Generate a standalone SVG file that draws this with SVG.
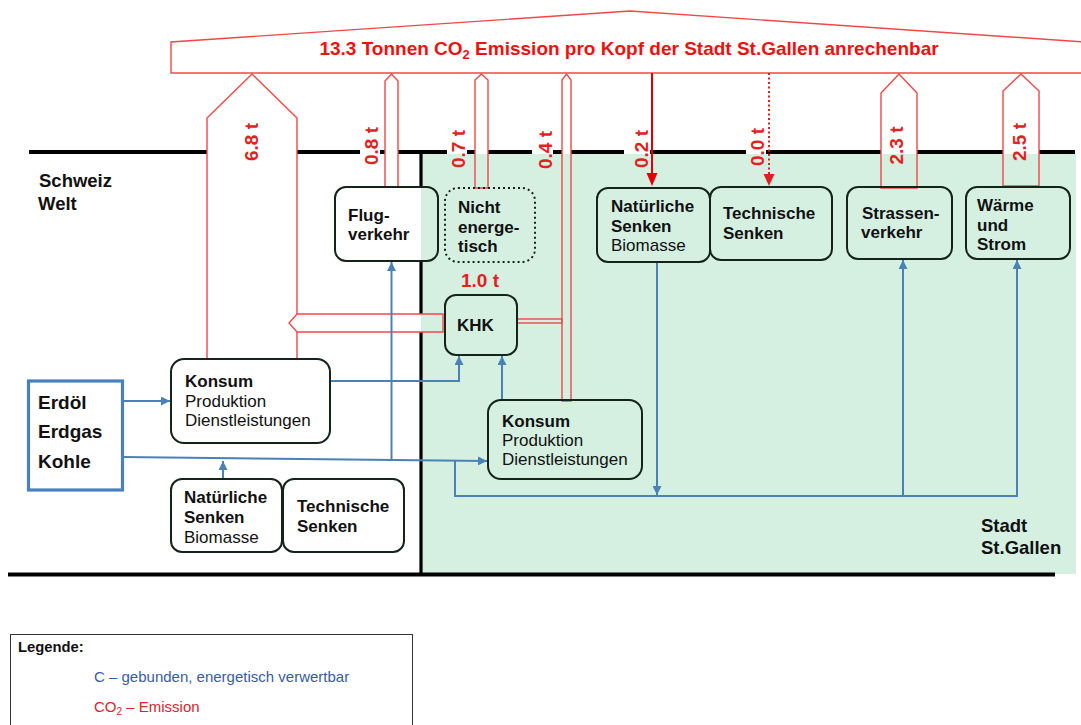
<svg xmlns="http://www.w3.org/2000/svg" width="1081" height="725" viewBox="0 0 1081 725">
<defs>
<style>
.t{font-family:"Liberation Sans",Arial,sans-serif;font-size:17px;fill:#111;}
.b{font-weight:bold;}
.big{font-family:"Liberation Sans",Arial,sans-serif;font-size:18.5px;font-weight:bold;fill:#111;}
.lab{font-family:"Liberation Sans",Arial,sans-serif;font-size:19px;font-weight:bold;fill:#e3211f;}
.node{fill:none;stroke:#14241a;stroke-width:2;}
.red{fill:none;stroke:#f04848;stroke-width:1.4;}
.blue{fill:none;stroke:#4a82b8;stroke-width:2;}
.blk{stroke:#000;stroke-width:4;fill:none;}
</style>
<marker id="ab" viewBox="0 0 10 10" refX="10" refY="5" markerWidth="9" markerHeight="9" markerUnits="userSpaceOnUse" orient="auto">
<path d="M0,0 L10,5 L0,10 Z" fill="#4a82b8"/>
</marker>
</defs>
<rect width="1081" height="725" fill="#fff"/>
<!-- city area -->
<rect x="421" y="154" width="655" height="420" fill="#d5f0e1"/>
<!-- boundary lines -->
<g id="boundaries">
<path class="blk" d="M29,152 H207 M297,152 H360 M380,152 H385 M398,152 H447 M467,152 H475 M488,152 H532 M553,152 H562 M571,152 H624 M650,152 H746 M766,152 H881 M917,152 H1003 M1039,152 H1075"/>
<path d="M421,150 V187 M421,261 V314 M421,332 V576" stroke="#000" stroke-width="3.2" fill="none"/>
<path class="blk" d="M8,574.5 H1055"/>
</g>
<!-- banner -->
<g id="banner">
<path class="red" d="M171,73 V42 L630,11 L1085,42 V73 Z"/>
<text x="629" y="55" text-anchor="middle" style="font-family:'Liberation Sans',Arial,sans-serif;font-size:19px;font-weight:bold;fill:#f01010">13.3 Tonnen CO<tspan font-size="13" dy="4">2</tspan><tspan dy="-4"> Emission pro Kopf der Stadt St.Gallen anrechenbar</tspan></text>
</g>
<!-- emission arrows -->
<g id="emissions">
<path class="red" d="M207,359 V118 L252,74 L297,118 V314 H443 V332 H297 V359 Z"/>
<path class="red" d="M297,314 L289,323 L297,332"/>
<path class="red" d="M385,187 V81 L391.5,74 L398,81 V187 Z"/>
<path class="red" d="M475,188 V80 L481.5,74 L488,80 V188 Z"/>
<path class="red" d="M562,401 V80 L566.5,74 L571,80 V401 Z"/>
<rect class="red" x="517" y="319" width="45" height="4"/>
<path class="red" d="M881,188 V93 L899,74 L917,93 V188 Z"/>
<path class="red" d="M1003,186 V91 L1021,74 L1039,91 V186 Z"/>
<path d="M652,73 V174" stroke="#e00000" stroke-width="2" fill="none"/>
<path d="M646.5,173 H657.5 L652,186 Z" fill="#e00000"/>
<path d="M769,73 V174" stroke="#e02020" stroke-width="2" stroke-dasharray="2,2.5" fill="none"/>
<path d="M763.5,174 H774.5 L769,186 Z" fill="#e02020"/>
</g>
<g id="labels">
<text class="lab" text-anchor="middle" transform="translate(250.5,142) rotate(-90)" y="7">6.8 t</text>
<text class="lab" text-anchor="middle" transform="translate(370.5,146) rotate(-90)" y="7">0.8 t</text>
<text class="lab" text-anchor="middle" transform="translate(458,149) rotate(-90)" y="7">0.7 t</text>
<text class="lab" text-anchor="middle" transform="translate(544.5,150) rotate(-90)" y="7">0.4 t</text>
<text class="lab" text-anchor="middle" transform="translate(640.5,149) rotate(-90)" y="7">0.2 t</text>
<text class="lab" text-anchor="middle" transform="translate(757,147) rotate(-90)" y="7">0.0 t</text>
<text class="lab" text-anchor="middle" transform="translate(895.5,145.5) rotate(-90)" y="7">2.3 t</text>
<text class="lab" text-anchor="middle" transform="translate(1019,142) rotate(-90)" y="7">2.5 t</text>
<text class="lab" x="461" y="287">1.0 t</text>
</g>
<!-- connectors -->
<g id="connectors">
<path class="blue" d="M123,401 H170" marker-end="url(#ab)"/>
<path class="blue" d="M123,457 L487,461" marker-end="url(#ab)"/>
<path class="blue" d="M391.5,461 V262" marker-end="url(#ab)"/>
<path class="blue" d="M330,381 H459 V356" marker-end="url(#ab)"/>
<path class="blue" d="M502,400 V356" marker-end="url(#ab)"/>
<path class="blue" d="M455,460.5 V496 H1017 V260" marker-end="url(#ab)"/>
<path class="blue" d="M903,496 V260" marker-end="url(#ab)"/>
<path class="blue" d="M657,262 V495" marker-end="url(#ab)"/>
<path class="blue" d="M223,479 V461" marker-end="url(#ab)"/>
</g>
<!-- region labels -->
<g id="regions">
<text class="big" x="39" y="187">Schweiz</text>
<text class="big" x="38" y="210">Welt</text>
<text class="big" x="981" y="532">Stadt</text>
<text class="big" x="981" y="554">St.Gallen</text>
</g>
<!-- nodes -->
<g id="flugverkehr">
<rect class="node" x="335" y="187" width="103" height="74" rx="11"/>
<text class="t b" x="348" y="221">Flug-</text>
<text class="t b" x="348" y="240">verkehr</text>
</g>
<g id="nicht-energetisch">
<rect x="445" y="188" width="90" height="74" rx="13" fill="none" stroke="#14241a" stroke-width="2" stroke-dasharray="2,3"/>
<text class="t b" x="458" y="213">Nicht</text>
<text class="t b" x="458" y="233">energe-</text>
<text class="t b" x="458" y="252">tisch</text>
</g>
<g id="khk">
<rect class="node" x="445" y="295" width="72" height="60" rx="11"/>
<text class="t b" x="457" y="331">KHK</text>
</g>
<g id="natuerliche-senken-stadt">
<rect class="node" x="597" y="188" width="113" height="74" rx="11"/>
<text class="t b" x="611" y="212">Natürliche</text>
<text class="t b" x="611" y="232">Senken</text>
<text class="t" x="611" y="251">Biomasse</text>
</g>
<g id="technische-senken-stadt">
<rect class="node" x="710" y="187" width="122" height="73" rx="11"/>
<text class="t b" x="723" y="219">Technische</text>
<text class="t b" x="723" y="239">Senken</text>
</g>
<g id="strassenverkehr">
<rect class="node" x="847" y="187" width="105" height="72" rx="11"/>
<text class="t b" x="862" y="219">Strassen-</text>
<text class="t b" x="861" y="238">verkehr</text>
</g>
<g id="waerme-strom">
<rect class="node" x="966" y="187" width="104" height="72" rx="11"/>
<text class="t b" x="977" y="211">Wärme</text>
<text class="t b" x="977" y="231">und</text>
<text class="t b" x="977" y="250">Strom</text>
</g>
<g id="konsum-welt">
<rect class="node" x="171" y="359" width="159" height="84" rx="13"/>
<text class="t b" x="185" y="387">Konsum</text>
<text class="t" x="185" y="407">Produktion</text>
<text class="t" x="185" y="426">Dienstleistungen</text>
</g>
<g id="konsum-stadt">
<rect class="node" x="488" y="400" width="154" height="79" rx="13"/>
<text class="t b" x="502" y="427">Konsum</text>
<text class="t" x="502" y="446">Produktion</text>
<text class="t" x="502" y="465">Dienstleistungen</text>
</g>
<g id="fossil">
<rect x="28.5" y="381" width="94" height="109" fill="none" stroke="#4a80bf" stroke-width="3.2"/>
<text class="t b" style="font-size:19px" x="38" y="409">Erdöl</text>
<text class="t b" style="font-size:19px" x="38" y="438">Erdgas</text>
<text class="t b" style="font-size:19px" x="38" y="468">Kohle</text>
</g>
<g id="natuerliche-senken-welt">
<rect class="node" x="171" y="479" width="111" height="73" rx="11"/>
<text class="t b" x="184" y="503">Natürliche</text>
<text class="t b" x="184" y="523">Senken</text>
<text class="t" x="184" y="543">Biomasse</text>
</g>
<g id="technische-senken-welt">
<rect class="node" x="283" y="479" width="121" height="73" rx="11"/>
<text class="t b" x="297" y="512">Technische</text>
<text class="t b" x="297" y="532">Senken</text>
</g>
<!-- legend -->
<g id="legend">
<rect x="10.5" y="634.5" width="402" height="100" fill="#fff" stroke="#333" stroke-width="1"/>
<text class="t b" style="font-size:14.8px" x="18" y="652">Legende:</text>
<text x="94" y="682" style="font-family:'Liberation Sans',Arial,sans-serif;font-size:15px;fill:#3a5c9e">C – gebunden, energetisch verwertbar</text>
<text x="94" y="712" style="font-family:'Liberation Sans',Arial,sans-serif;font-size:15px;fill:#d8262c">CO<tspan font-size="10" dy="3">2</tspan><tspan dy="-3"> – Emission</tspan></text>
</g>
</svg>
